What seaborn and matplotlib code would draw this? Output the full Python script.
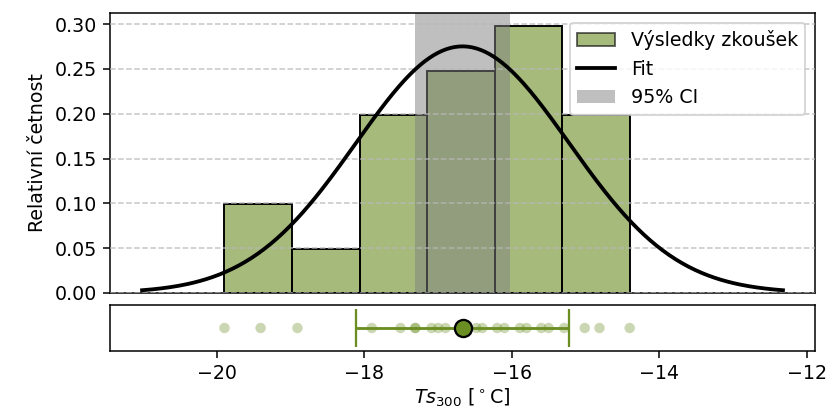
import numpy as np
import pandas as pd
import matplotlib
matplotlib.use("Agg")
import matplotlib.pyplot as plt
import seaborn as sns
from matplotlib.patches import Patch
from matplotlib.lines import Line2D

# Test results Ts300 [°C]
values = [-19.90, -19.41, -18.91, -17.90, -17.51, -17.31, -17.31, -17.09,
          -17.00, -16.90, -16.48, -16.40, -16.20, -16.10, -15.89, -15.80,
          -15.60, -15.50, -15.29, -15.01, -14.81, -14.40]
n_bins = 6
t_975 = 2.080  # Student t quantile, 21 dof
labels = ["Výsledky zkoušek", "Fit", "95% CI"]
ylabel = "Relativní četnost"
xlabel = r"$Ts_{300}$ [$^\circ$C]"

df = pd.DataFrame({"Ts300": values})
data = np.asarray(values)
mu = data.mean()
sd = data.std(ddof=1)
half = t_975 * sd / np.sqrt(len(data))

xs = np.linspace(mu - 3 * sd, mu + 3 * sd, 300)
pdf = np.exp(-0.5 * ((xs - mu) / sd) ** 2) / (sd * np.sqrt(2 * np.pi))
fit = pd.DataFrame({"x": xs, "y": pdf})

green = "olivedrab"

fig = plt.figure(figsize=(828 / 137, 410 / 137), dpi=137)
ax = fig.add_axes([0.1329, 0.2854, 0.8514, 0.6829])
ax2 = fig.add_axes([0.1329, 0.1439, 0.8514, 0.1122], sharex=ax)

sns.histplot(data=df, x="Ts300", bins=n_bins, stat="density", color=green,
             alpha=0.6, edgecolor="black", linewidth=1.0, ax=ax, zorder=1)
ax.axvspan(mu - half, mu + half, color="gray", alpha=0.5, lw=0, zorder=1.5)
sns.lineplot(data=fit, x="x", y="y", color="black", linewidth=2, ax=ax, zorder=3)

ax.set_axisbelow(False)
ax.yaxis.grid(True, linestyle="--", color="#b8b8b8", alpha=0.8, zorder=2.5)
ax.xaxis.grid(False)
ax.set_ylabel(ylabel)
ax.set_xlabel("")
ax.tick_params(axis="x", bottom=False, labelbottom=False)

handles = [Patch(facecolor=green, alpha=0.6, edgecolor="black"),
           Line2D([0], [0], color="black", lw=2),
           Patch(facecolor="gray", alpha=0.5)]
ax.legend(handles, labels, loc="upper right")

sns.scatterplot(x=values, y=np.zeros(len(values)), color=green, alpha=0.35,
                s=30, edgecolor="none", ax=ax2, zorder=1)
ax2.errorbar(mu, 0, xerr=sd, fmt="o", color=green, ecolor=green,
             elinewidth=1.5, capsize=10, markersize=9,
             markeredgecolor="black", markeredgewidth=1.2, zorder=3)
ax2.set_ylim(-1, 1)
ax2.set_yticks([])
ax2.set_xlabel(xlabel, labelpad=2)
ax2.set_ylabel("")

fig.savefig("out.png", dpi=137)
